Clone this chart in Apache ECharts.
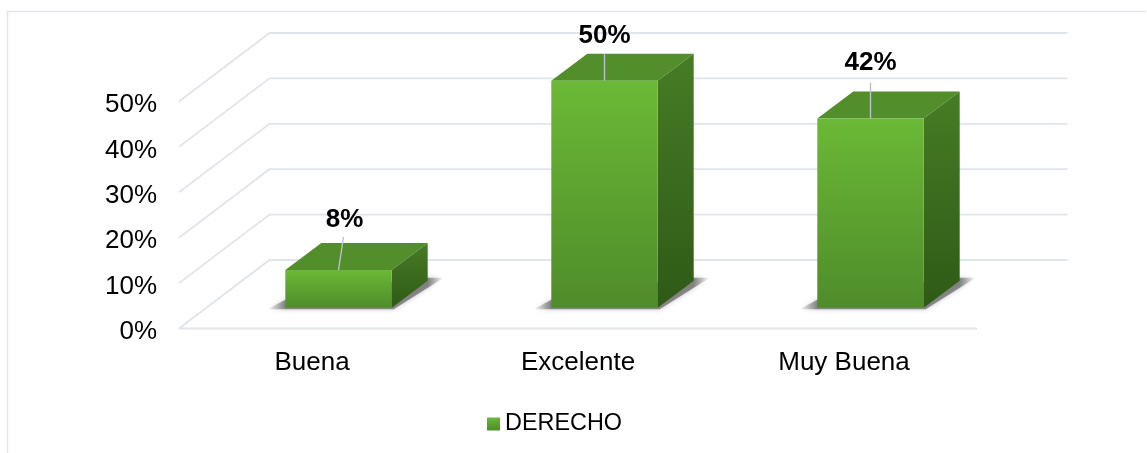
<!DOCTYPE html>
<html>
<head>
<meta charset="utf-8">
<style>html,body{margin:0;padding:0;background:#fff}#c{width:1147px;height:453px}</style>
<script src="https://cdn.jsdelivr.net/npm/echarts@6/dist/echarts.min.js"></script>
</head>
<body>
<div id="c"></div>
<script>
var categories = ['Buena', 'Excelente', 'Muy Buena'];
var seriesName = 'DERECHO';
var values = [8.33, 50, 41.67];
var valueLabels = ['8%', '50%', '42%'];
var tickValues = [0, 10, 20, 30, 40, 50];

// projection constants of the pseudo-3D box (style, not data)
var WALL = { dx: 90.5, dy: -68.5 };
var BAR = { frontDx: 26.5, frontDy: -20.7, dx: 36, dy: -27, widthRatio: 0.4 };
var LABEL_NUDGE = [{ lx: 5, ly: -33, tx: 6, ty: -50 }, { lx: 0, ly: -27, tx: 0, ty: -45 }, { lx: 0, ly: -36, tx: 0, ty: -56 }];
var GRID_COLOR = '#e0e4eb';
var FONT = '"Liberation Sans", Arial, sans-serif';

function grad(a, b) {
  return new echarts.graphic.LinearGradient(0, 0, 0, 1, [{ offset: 0, color: a }, { offset: 1, color: b }]);
}

function shadowFill(total, left, right) {
  var c = 'rgba(90,90,90,0.65)', t = 'rgba(90,90,90,0)';
  return new echarts.graphic.LinearGradient(0, 0, 1, 0, [
    { offset: 0, color: t }, { offset: left / total, color: c },
    { offset: 1 - right / total, color: c }, { offset: 1, color: t }
  ]);
}

function renderWall(params, api) {
  var cs = params.coordSys;
  var v = api.value(0);
  var y = api.coord([0, v])[1];
  var x0 = cs.x, x1 = cs.x + cs.width;
  var children = [{
    type: 'polyline',
    shape: { points: [[x0, y], [x0 + WALL.dx, y + WALL.dy], [x1 + WALL.dx, y + WALL.dy]] },
    style: { stroke: GRID_COLOR, lineWidth: 1.8, fill: null }
  }];
  if (v === 0) {
    children.push({
      type: 'line',
      shape: { x1: x0, y1: y, x2: x1, y2: y },
      style: { stroke: GRID_COLOR, lineWidth: 1.8 }
    });
  }
  return { type: 'group', children: children };
}

function renderBar(params, api) {
  var i = api.value(0), v = api.value(1);
  var top = api.coord([i, v]), base = api.coord([i, 0]);
  var w = api.size([1, 0])[0] * BAR.widthRatio;
  var xl = top[0] - w / 2 + BAR.frontDx, xr = xl + w;
  var yt = top[1] + BAR.frontDy, yb = base[1] + BAR.frontDy;
  var dx = BAR.dx, dy = BAR.dy;
  var n = LABEL_NUDGE[params.dataIndex];
  var xc = (xl + xr) / 2;
  var tipL = 18, tipR = 16;
  return {
    type: 'group',
    children: [
      {
        type: 'polygon',
        shape: { points: [[xl - tipL, yb + 1.5], [xr + 2, yb + 1.5], [xr + dx + tipR, yb + dy - 3], [xr + dx - 10, yb + dy - 3], [xl, yb - 8]] },
        style: { fill: shadowFill(w + dx + tipL + tipR, tipL, tipR), shadowBlur: 5, shadowColor: 'rgba(130,130,130,0.7)' }
      },
      {
        type: 'polygon',
        shape: { points: [[xl, yt], [xl + dx, yt + dy], [xr + dx, yt + dy], [xr, yt]] },
        style: { fill: '#528e2a' }
      },
      {
        type: 'polygon',
        shape: { points: [[xr, yt], [xr + dx, yt + dy], [xr + dx, yb + dy], [xr, yb]] },
        style: { fill: grad('#477c25', '#2e5a16') }
      },
      {
        type: 'rect',
        shape: { x: xl, y: yt, width: w, height: yb - yt },
        style: { fill: grad('#6bb936', '#4f8c2a') }
      },
      {
        type: 'line',
        shape: { x1: xc, y1: yt, x2: xc + n.lx, y2: yt + n.ly },
        style: { stroke: '#b8c1cd', lineWidth: 1.4 }
      },
      {
        type: 'text',
        style: {
          text: valueLabels[params.dataIndex],
          x: xc + n.tx, y: yt + n.ty,
          align: 'center', verticalAlign: 'middle',
          font: 'bold 26px ' + FONT, fill: '#000'
        }
      }
    ]
  };
}

var chart = echarts.init(document.getElementById('c'), null, { renderer: 'canvas' });
chart.setOption({
  animation: false,
  backgroundColor: '#fff',
  graphic: [
    { type: 'line', shape: { x1: 7.5, y1: 11, x2: 7.5, y2: 453 }, style: { stroke: '#e3e6ea', lineWidth: 1.5 }, silent: true },
    { type: 'line', shape: { x1: 7, y1: 11.5, x2: 1146, y2: 11.5 }, style: { stroke: '#e3e6ea', lineWidth: 1.5 }, silent: true }
  ],
  legend: {
    data: [{ name: seriesName, icon: 'rect', itemStyle: { color: grad('#6bb936', '#4f8c2a') } }],
    left: 487, top: 412.5,
    itemWidth: 13, itemHeight: 13, itemGap: 7,
    textStyle: { fontFamily: FONT, fontSize: 23.4, color: '#000' },
    padding: 0
  },
  grid: { left: 179, top: 101.5, width: 798, height: 227, containLabel: false },
  xAxis: {
    type: 'category',
    data: categories,
    axisLine: { show: false },
    axisTick: { show: false },
    splitLine: { show: false },
    axisLabel: { margin: 21, fontFamily: FONT, fontSize: 26, color: '#000' }
  },
  yAxis: {
    type: 'value',
    min: 0, max: 50, interval: 10,
    axisLine: { show: false },
    axisTick: { show: false },
    splitLine: { show: false },
    axisLabel: {
      margin: 22, color: '#000',
      formatter: '{v|{value}%}',
      rich: { v: { fontFamily: FONT, fontSize: 26, color: '#000', padding: [7, 0, 0, 0] } }
    }
  },
  series: [
    {
      type: 'custom',
      name: 'wall',
      silent: true,
      z: 1,
      renderItem: renderWall,
      data: tickValues.map(function (t) { return [t]; }),
      encode: { y: 0 },
      tooltip: { show: false }
    },
    {
      type: 'custom',
      name: seriesName,
      z: 2,
      renderItem: renderBar,
      data: values.map(function (v, i) { return [i, v]; }),
      encode: { x: 0, y: 1 },
      itemStyle: { color: '#5da231' }
    }
  ]
});
</script>
</body>
</html>
